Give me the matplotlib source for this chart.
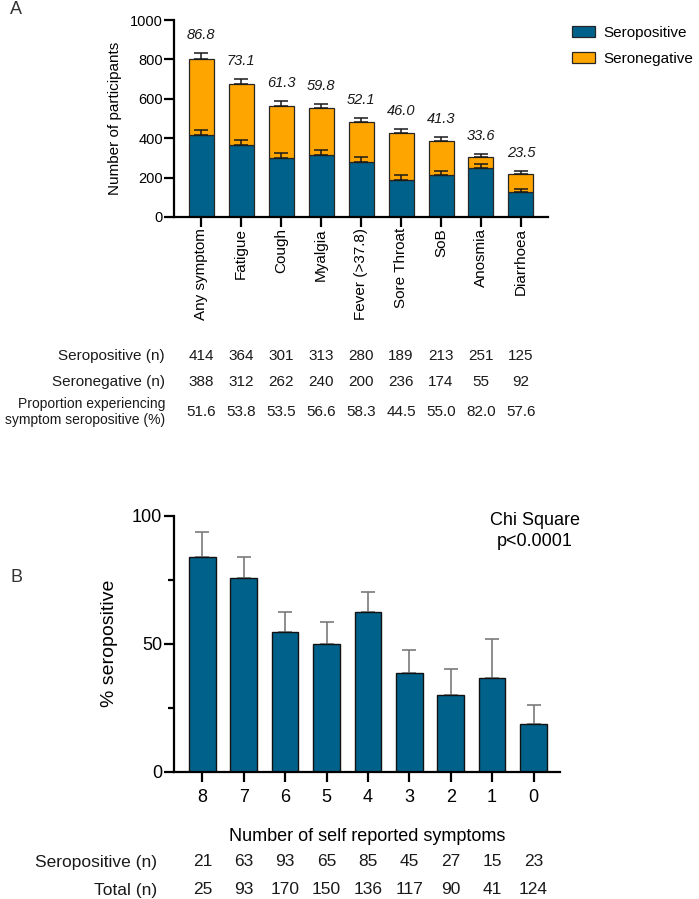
import matplotlib
matplotlib.use('Agg')
import matplotlib.pyplot as plt
import matplotlib.transforms as mtransforms
import numpy as np

plt.rcParams['font.family'] = ['Liberation Sans', 'DejaVu Sans']

# ── Panel A data ────────────────────────────────────────────────────────────
symptoms = ['Any symptom', 'Fatigue', 'Cough', 'Myalgia', 'Fever (>37.8)',
            'Sore Throat', 'SoB', 'Anosmia', 'Diarrhoea']
sero_n = [414, 364, 301, 313, 280, 189, 213, 251, 125]
seroneg_n = [388, 312, 262, 240, 200, 236, 174, 55, 92]
sero_err = [30, 28, 26, 25, 26, 24, 22, 16, 16]
total_err = [28, 26, 24, 22, 21, 21, 21, 14, 16]
pct_symptom = ['86.8', '73.1', '61.3', '59.8', '52.1', '46.0', '41.3', '33.6', '23.5']
prop_sero = ['51.6', '53.8', '53.5', '56.6', '58.3', '44.5', '55.0', '82.0', '57.6']

# ── Panel B data ────────────────────────────────────────────────────────────
n_symptoms = ['8', '7', '6', '5', '4', '3', '2', '1', '0']
pct_sero = [84.0, 75.8, 54.7, 49.8, 62.5, 38.5, 30.0, 36.6, 18.5]
pct_err = [9.8, 7.9, 7.6, 8.8, 7.8, 9.0, 10.1, 15.2, 7.6]
b_sero_n = [21, 63, 93, 65, 85, 45, 27, 15, 23]
b_total_n = [25, 93, 170, 150, 136, 117, 90, 41, 124]

BLUE = '#00618B'
ORANGE = '#FFA500'
EDGE = '#262626'
W, H = 699, 899

fig = plt.figure(figsize=(W / 100, H / 100), dpi=100)


def fy(px):
    return 1 - px / H


def style_axes(ax, ticklen):
    for s in ['top', 'right']:
        ax.spines[s].set_visible(False)
    for s in ['left', 'bottom']:
        ax.spines[s].set_linewidth(1.6)
    ax.tick_params(axis='both', direction='out', length=ticklen, width=1.6,
                   color='black')


# ── Panel A ────────────────────────────────────────────────────────────────
axA = fig.add_axes([174 / W, fy(217), (548 - 174) / W, 197 / H])
x = np.arange(len(symptoms))
total = [a + b for a, b in zip(sero_n, seroneg_n)]
axA.bar(x, sero_n, width=0.625, color=BLUE, edgecolor=EDGE, linewidth=0.9,
        label='Seropositive', zorder=2)
axA.bar(x, seroneg_n, bottom=sero_n, width=0.625, color=ORANGE, edgecolor=EDGE,
        linewidth=0.9, label='Seronegative', zorder=2)
axA.errorbar(x, sero_n, yerr=[np.zeros(len(x)), sero_err], fmt='none',
             ecolor='#1a1a1a', elinewidth=1.1, capsize=5, capthick=1.1, zorder=3)
axA.errorbar(x, total, yerr=[np.zeros(len(x)), total_err], fmt='none',
             ecolor='#1a1a1a', elinewidth=1.1, capsize=5, capthick=1.1, zorder=3)
for xi, t, e, lab in zip(x, total, total_err, pct_symptom):
    axA.annotate(lab, (xi, t + e), xytext=(0, 8), textcoords='offset points',
                 ha='center', va='bottom', fontsize=10.5, style='italic',
                 color='#1a1a1a')
axA.set_xlim(-0.675, 8.675)
axA.set_ylim(0, 1000)
axA.set_yticks([0, 200, 400, 600, 800, 1000])
axA.set_xticks(x)
axA.set_xticklabels(symptoms, rotation=90, fontsize=11)
axA.tick_params(axis='x', pad=1)
axA.tick_params(axis='y', labelsize=10.5, pad=1)
axA.set_ylabel('Number of participants', fontsize=11, labelpad=6)
style_axes(axA, 7)

axA.legend(loc='upper left', bbox_to_anchor=(572 / W, fy(26)),
           bbox_transform=fig.transFigure, frameon=False, fontsize=11,
           handlelength=1.5, handleheight=0.75, handletextpad=0.55,
           labelspacing=0.8, borderaxespad=0, borderpad=0)

# table under panel A
tA = mtransforms.blended_transform_factory(axA.transData, fig.transFigure)
rowsA = [('Seropositive (n)', [str(v) for v in sero_n], 356, 11),
         ('Seronegative (n)', [str(v) for v in seroneg_n], 382, 11),
         ('Proportion experiencing\nsymptom seropositive (%)', prop_sero, 412, 10)]
for label, vals, ypx, fs in rowsA:
    fig.text(165 / W, fy(ypx), label, ha='right', va='center', fontsize=fs,
             linespacing=1.1, color='#1a1a1a')
    for xi, v in zip(x, vals):
        axA.text(xi, fy(ypx), v, transform=tA, ha='center', va='center',
                 fontsize=11, color='#1a1a1a')

# ── Panel B ────────────────────────────────────────────────────────────────
axB = fig.add_axes([174 / W, fy(771.7), (560 - 174) / W, 256 / H])
xb = np.arange(len(n_symptoms))
axB.bar(xb, pct_sero, width=0.645, color=BLUE, edgecolor='#111111',
        linewidth=1.0, zorder=2)
axB.errorbar(xb, pct_sero, yerr=[np.zeros(len(xb)), pct_err], fmt='none',
             ecolor='#7a7a7a', elinewidth=1.2, capsize=5, capthick=1.2, zorder=1)
axB.set_xlim(-0.684, 8.64)
axB.set_ylim(0, 100)
axB.set_yticks([0, 50, 100])
axB.set_yticks([25, 75], minor=True)
axB.set_xticks(xb)
axB.set_xticklabels(n_symptoms, fontsize=13)
axB.tick_params(axis='y', labelsize=13, pad=1)
axB.tick_params(axis='x', pad=5)
axB.tick_params(axis='y', which='minor', length=4, width=1.6)
axB.set_ylabel('% seropositive', fontsize=14, labelpad=10)
axB.set_xlabel('Number of self reported symptoms', fontsize=13, labelpad=16)
style_axes(axB, 7.5)
axB.text(535 / W, fy(531), 'Chi Square\np<0.0001', transform=fig.transFigure,
         ha='center', va='center', fontsize=13, linespacing=1.3)

tB = mtransforms.blended_transform_factory(axB.transData, fig.transFigure)
rowsB = [('Seropositive (n)', b_sero_n, 862), ('Total (n)', b_total_n, 890)]
for label, vals, ypx in rowsB:
    fig.text(157 / W, fy(ypx), label, ha='right', va='center', fontsize=12.5,
             color='#1a1a1a')
    for xi, v in zip(xb, vals):
        axB.text(xi, fy(ypx), str(v), transform=tB, ha='center', va='center',
                 fontsize=12.5, color='#1a1a1a')

fig.text(16 / W, fy(10), 'A', ha='center', va='center', fontsize=13,
         color='#333333')
fig.text(16 / W, fy(577), 'B', ha='center', va='center', fontsize=13,
         color='#333333')

fig.savefig('out.png', dpi=100)
